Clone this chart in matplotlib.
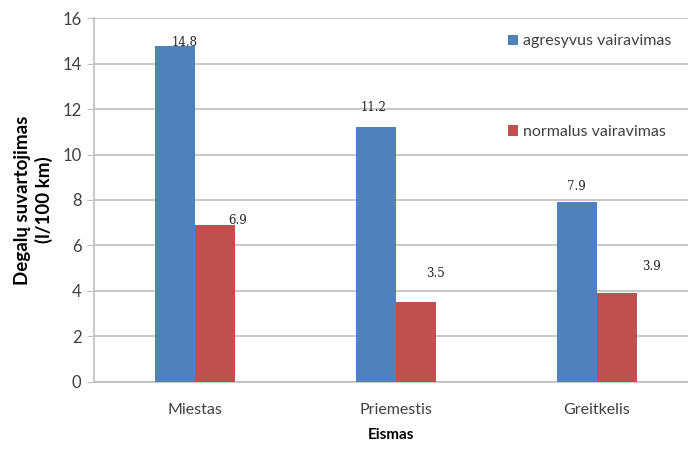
import numpy as np
import matplotlib.pyplot as plt

# Fuel consumption by traffic type
categories = ['Miestas', 'Priemestis', 'Greitkelis']
agresyvus = [14.8, 11.2, 7.9]
normalus = [6.9, 3.5, 3.9]

blue = '#4F81BD'
red = '#C0504D'
grid_col = '#BFBFBF'
tick_col = '#404040'

fig = plt.figure(figsize=(6.88, 4.53), dpi=100)
ax = fig.add_axes([0.1366, 0.1574, 0.8634, 0.8022])

x = np.arange(len(categories))
w = 0.2
ax.bar(x - w / 2, agresyvus, w, color=blue, label='agresyvus vairavimas', zorder=3)
ax.bar(x + w / 2, normalus, w, color=red, label='normalus vairavimas', zorder=3)

# value labels, offsets in points (dx, dy)
off_a = [(7, 2), (-1.5, 14), (0, 11)]
off_n = [(16.5, 3), (14, 21), (25, 19)]
for xs, vals, offs in [(x - w / 2, agresyvus, off_a), (x + w / 2, normalus, off_n)]:
    for xi, v, (dx, dy) in zip(xs, vals, offs):
        ax.annotate(f'{v}', (xi, v), xytext=(dx, dy), textcoords='offset points',
                    ha='center', va='center', fontsize=8.5, family='DejaVu Serif',
                    color='#222222')

ax.set_ylim(0, 16)
ax.set_yticks(range(0, 17, 2))
ax.set_xlim(-0.5025, 2.453)
ax.set_xticks(x)
ax.set_xticklabels(categories)

ax.yaxis.grid(True, color=grid_col, linewidth=1.2, zorder=0)
ax.set_axisbelow(True)
for s in ['top', 'right']:
    ax.spines[s].set_visible(False)
ax.spines['left'].set_color(grid_col)
ax.spines['bottom'].set_color(grid_col)
ax.spines['left'].set_linewidth(1.2)
ax.spines['bottom'].set_linewidth(1.2)
ax.tick_params(axis='y', length=5, color=grid_col, labelsize=12, labelcolor=tick_col, pad=4)
ax.tick_params(axis='x', length=0, labelsize=11.5, labelcolor=tick_col, pad=15)
for lab in ax.get_xticklabels() + ax.get_yticklabels():
    lab.set_family('Lato')

ax.set_ylabel('Degalų suvartojimas\n(l/100 km)', fontsize=13.5, fontweight='bold',
              family='Lato', linespacing=1.2, labelpad=7)
ax.set_xlabel('Eismas', fontsize=11, fontweight='bold', family='Lato', labelpad=8)

leg = ax.legend(loc='upper left', bbox_to_anchor=(0.672, 0.995), frameon=False,
                handlelength=0.65, handleheight=0.65, handletextpad=0.3,
                labelspacing=4.8, prop={'family': 'Lato', 'size': 11.5})
for t in leg.get_texts():
    t.set_color(tick_col)

fig.savefig('out.png', dpi=100)
